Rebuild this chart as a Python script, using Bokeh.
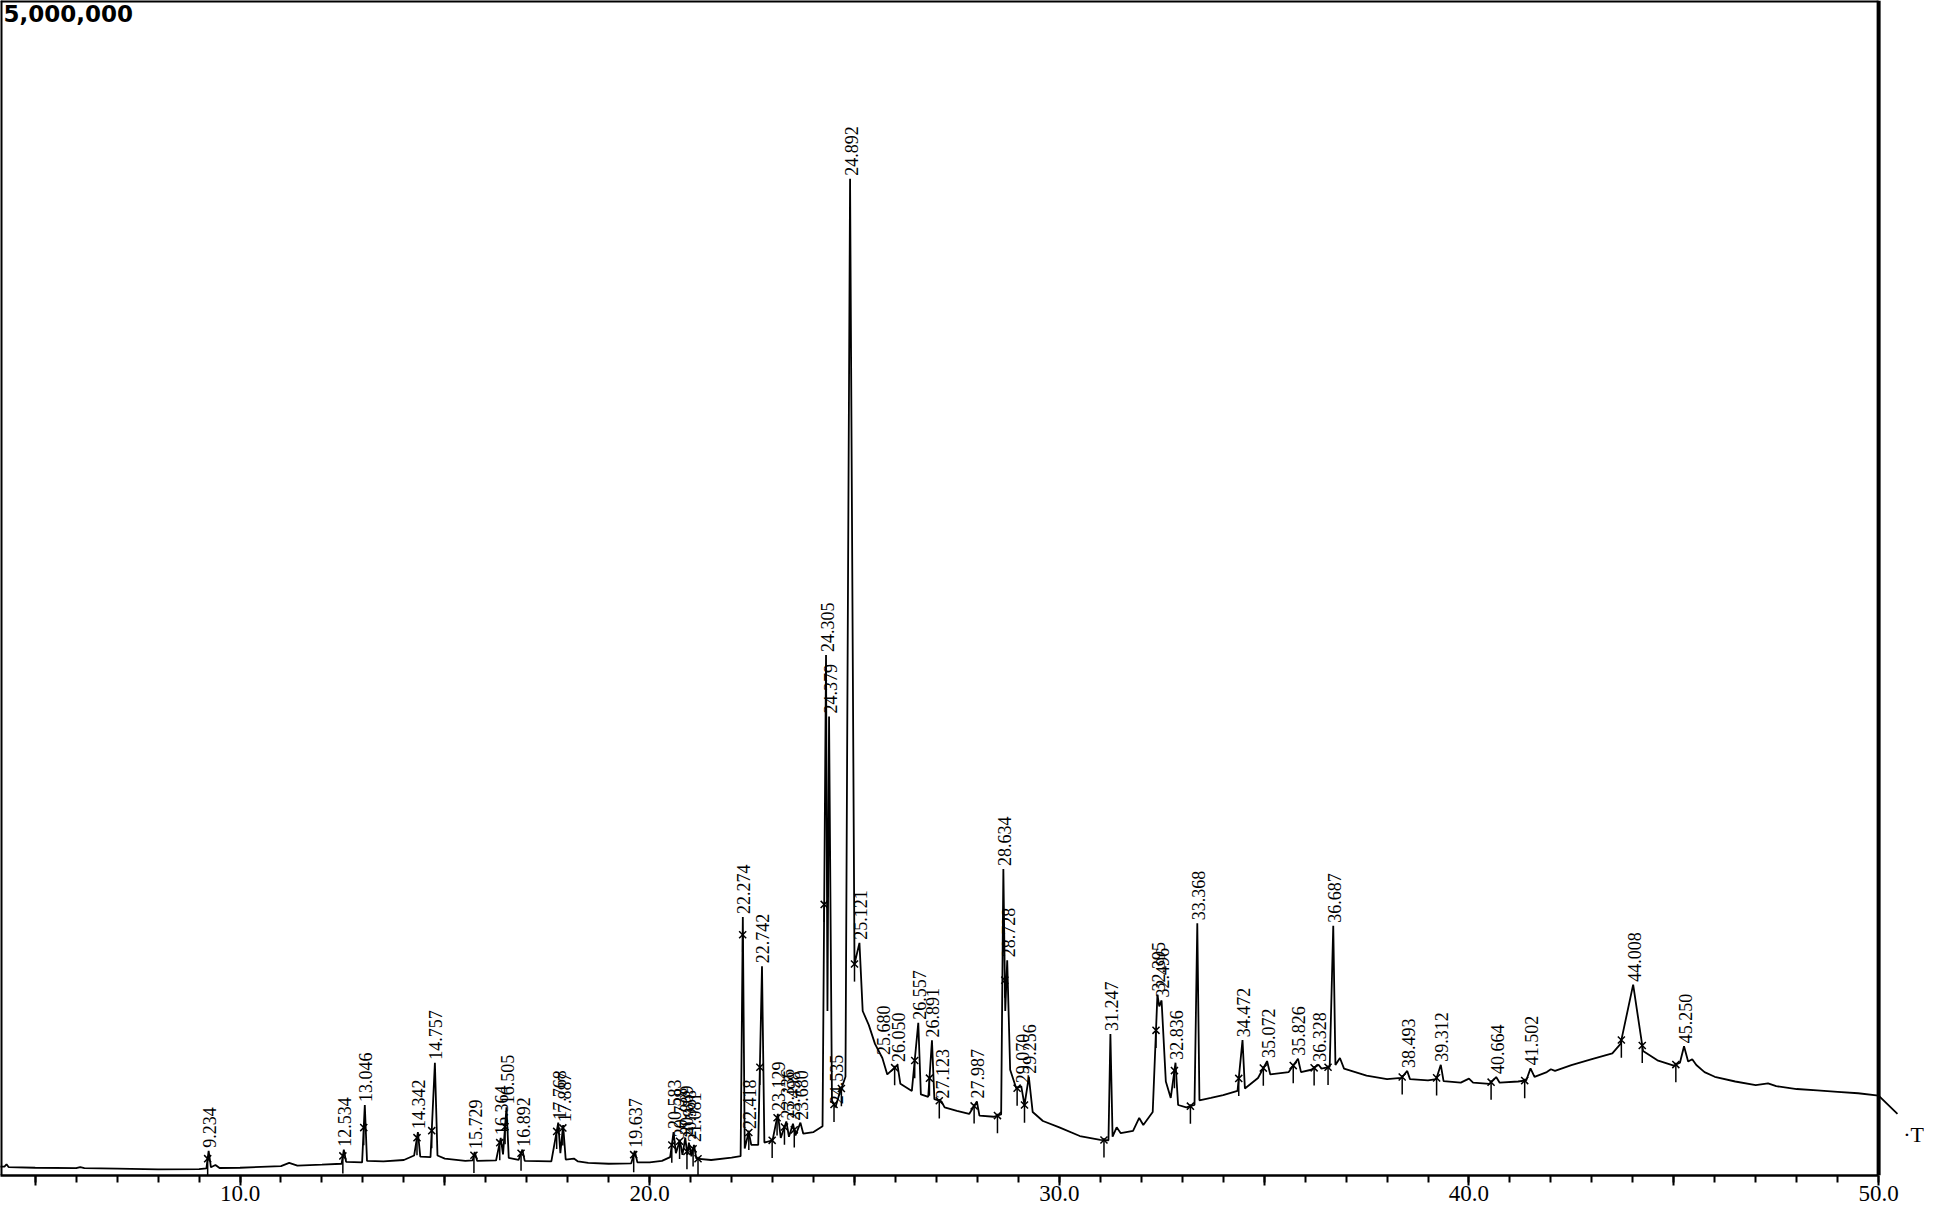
import numpy as np
from bokeh.plotting import figure
from bokeh.models import Range1d, FixedTicker, CustomJSTickFormatter, Label, ColumnDataSource
from bokeh.core.properties import value
from bokeh.embed import file_html
from bokeh.resources import INLINE

# ---- data (retention time in min, intensity in counts) ----
trace_time = [4.05, 4.25, 4.3, 4.35, 5.0, 6.0, 6.1, 6.2, 7.0, 8.0, 9.0, 9.18, 9.234, 9.29, 9.40, 9.5,
              10.0, 11.0, 11.2, 11.4, 12.0, 12.48, 12.534, 12.59, 12.98, 13.046, 13.1, 13.5, 14.0, 14.25,
              14.342, 14.40, 14.65, 14.757, 14.82, 15.0, 15.5, 15.68, 15.729, 15.79, 16.25, 16.364, 16.42,
              16.505, 16.56, 16.80, 16.892, 16.95, 17.6, 17.768, 17.82, 17.887, 17.95, 18.15, 18.25, 18.5,
              19.0, 19.55, 19.637, 19.70, 20.0, 20.3, 20.5, 20.583, 20.64, 20.738, 20.80, 20.869, 20.92,
              20.958, 21.02, 21.081, 21.14, 21.5, 22.0, 22.22, 22.274, 22.32, 22.418, 22.48, 22.65, 22.742,
              22.80, 23.0, 23.129, 23.20, 23.336, 23.40, 23.498, 23.56, 23.680, 23.75, 24.0, 24.22, 24.305,
              24.34, 24.379, 24.45, 24.535, 24.62, 24.78, 24.892, 25.0, 25.121, 25.2, 25.35, 25.5, 25.680,
              25.8, 26.050, 26.12, 26.40, 26.557, 26.62, 26.80, 26.891, 26.95, 27.123, 27.2, 27.5, 27.8,
              27.987, 28.05, 28.4, 28.58, 28.634, 28.68, 28.728, 28.80, 28.95, 29.070, 29.15, 29.256, 29.35,
              29.6, 30.0, 30.5, 31.0, 31.20, 31.247, 31.30, 31.40, 31.5, 31.8, 31.95, 32.05, 32.28, 32.395,
              32.44, 32.496, 32.6, 32.72, 32.836, 32.9, 33.1, 33.3, 33.368, 33.42, 33.7, 34.0, 34.35, 34.472,
              34.53, 34.85, 35.072, 35.15, 35.6, 35.826, 35.9, 36.15, 36.328, 36.40, 36.60, 36.687, 36.74,
              36.85, 36.95, 37.5, 38.0, 38.35, 38.493, 38.56, 39.0, 39.2, 39.312, 39.38, 39.8, 40.0, 40.1,
              40.5, 40.664, 40.75, 41.2, 41.4, 41.502, 41.6, 41.9, 42.0, 42.1, 42.5, 43.0, 43.5, 43.7,
              44.008, 44.25, 44.6, 45.0, 45.15, 45.250, 45.35, 45.45, 45.55, 45.75, 46.0, 46.5, 47.0, 47.3,
              47.5, 48.0, 48.5, 49.0, 49.5, 50.0, 50.46]
trace_intensity = [37000, 38000, 48000, 36000, 33000, 31000, 36000, 31000, 29000, 26000, 27000, 30000, 105000, 35000, 45000, 32000,
                   33000, 40000, 54000, 42000, 46000, 50000, 110000, 58000, 56000, 300000, 62000, 60000, 66000, 85000,
                   185000, 80000, 78000, 480000, 85000, 72000, 62000, 64000, 100000, 62000, 64000, 160000, 90000,
                   290000, 75000, 66000, 110000, 62000, 60000, 225000, 95000, 215000, 68000, 72000, 60000, 54000,
                   50000, 52000, 105000, 56000, 56000, 62000, 78000, 185000, 95000, 150000, 88000, 160000, 88000,
                   140000, 82000, 130000, 72000, 66000, 76000, 82000, 1100000, 115000, 185000, 130000, 130000, 890000,
                   140000, 150000, 262000, 160000, 230000, 165000, 220000, 170000, 225000, 178000, 185000, 210000, 2215000,
                   700000, 1953000, 320000, 290000, 340000, 420000, 4241000, 900000, 990000, 700000, 640000, 560000, 500000,
                   430000, 470000, 390000, 360000, 650000, 345000, 335000, 575000, 325000, 315000, 290000, 275000, 262000,
                   315000, 255000, 250000, 260000, 1304000, 700000, 916000, 450000, 370000, 380000, 300000, 420000, 270000,
                   232000, 205000, 168000, 152000, 150000, 602000, 165000, 205000, 180000, 190000, 245000, 215000, 270000, 770000,
                   720000, 745000, 400000, 330000, 480000, 300000, 290000, 300000, 1073000, 320000, 330000, 342000, 360000, 576000,
                   370000, 415000, 487000, 430000, 440000, 497000, 440000, 450000, 471000, 455000, 462000, 1063000, 470000,
                   500000, 455000, 425000, 410000, 415000, 445000, 410000, 405000, 410000, 471000, 402000, 395000, 412000, 395000,
                   390000, 419000, 395000, 400000, 405000, 456000, 420000, 440000, 452000, 445000, 470000, 495000, 520000, 560000,
                   812000, 530000, 490000, 468000, 480000, 550000, 485000, 495000, 470000, 440000, 420000, 400000, 385000, 392000,
                   380000, 368000, 362000, 356000, 350000, 340000, 262000]

peak_labels = ["9.234", "12.534", "13.046", "14.342", "14.757", "15.729", "16.364", "16.505", "16.892",
               "17.768", "17.887", "19.637", "20.583", "20.738", "20.869", "20.958", "21.081", "22.274",
               "22.418", "22.742", "23.129", "23.336", "23.498", "23.680", "24.305", "24.379", "24.535",
               "24.892", "25.121", "25.680", "26.050", "26.557", "26.891", "27.123", "27.987", "28.634",
               "28.728", "29.070", "29.256", "31.247", "32.395", "32.496", "32.836", "33.368", "34.472",
               "35.072", "35.826", "36.328", "36.687", "38.493", "39.312", "40.664", "41.502", "44.008",
               "45.250"]

# integration boundary marks (retention time, min)
mark_time = [9.21, 12.51, 13.02, 14.32, 14.68, 15.71, 16.34, 16.47, 16.86, 17.73, 17.88, 19.61, 20.54,
             20.73, 20.91, 21.06, 21.18, 22.27, 22.42, 22.69, 22.99, 23.11, 23.29, 23.53, 24.26, 24.50,
             24.68, 25.0, 25.98, 26.47, 26.83, 27.07, 27.92, 28.49, 28.67, 28.97, 29.15, 31.09, 32.36,
             32.81, 33.20, 34.38, 34.98, 35.71, 36.22, 36.56, 38.37, 39.21, 40.54, 41.36, 43.72, 44.23,
             45.05]

x_ticks = [5, 10, 15, 20, 25, 30, 35, 40, 45, 50]
x_minor = list(range(5, 51))
x_start, x_end_axis = 4.153, 50.0
full_scale = 5000000

# ---- figure ----
p = figure(width=1924, height=1205, output_backend="svg", toolbar_location=None,
           x_range=Range1d(x_start, 51.12), y_range=Range1d(0, full_scale),
           min_border_left=0, min_border_right=0, min_border_top=0, min_border_bottom=30)
p.grid.visible = False
p.yaxis.visible = False
p.outline_line_color = None
p.background_fill_color = "white"
p.border_fill_color = "white"

xa = p.xaxis[0]
xa.bounds = (x_start, x_end_axis)
xa.ticker = FixedTicker(ticks=x_ticks, minor_ticks=x_minor)
xa.formatter = CustomJSTickFormatter(code="return (tick % 10 == 0) ? tick.toFixed(1) : '';")
xa.axis_line_width = 2.5
xa.axis_line_color = "black"
xa.major_tick_line_width = 2
xa.minor_tick_line_width = 2
xa.major_tick_out = 10
xa.major_tick_in = 0
xa.minor_tick_out = 7
xa.minor_tick_in = 0
xa.major_label_text_font = "Liberation Serif"
xa.major_label_text_font_size = "23px"
xa.major_label_text_color = "black"
xa.major_label_standoff = 0

# box frame (left, top, right) limited to the axis extent
p.segment(x0=[x_start, x_start, x_end_axis], y0=[0, full_scale, 0],
          x1=[x_start, x_end_axis, x_end_axis], y1=[full_scale, full_scale, full_scale],
          line_color="black", line_width=4)

t = np.array(trace_time)
yv = np.array(trace_intensity)
p.line(t, yv, line_color="black", line_width=1.8)

# integration marks
mb = np.interp(mark_time, t, yv)
p.segment(x0=mark_time, y0=mb - 75000, x1=mark_time, y1=mb + 8000, line_color="black", line_width=1.5)
p.scatter(x=mark_time, y=mb, marker="x", size=10, line_color="black", line_width=1.5)

# peak labels (rotated, starting at the apex)
peak_rt = [float(s) for s in peak_labels]
peak_apex = np.interp(peak_rt, t, yv)
src = ColumnDataSource(dict(x=peak_rt, y=peak_apex, txt=peak_labels))
p.text(x="x", y="y", text="txt", source=src, angle=np.pi / 2, text_align="left",
       text_baseline="middle", y_offset=-3, x_offset=1,
       text_font=value("Liberation Serif"), text_font_size="18px", text_color="black")

p.add_layout(Label(x=x_start, y=full_scale, text="5,000,000", text_font="DejaVu Sans",
                   text_font_style="bold", text_font_size="23px", text_baseline="top",
                   x_offset=3, y_offset=-4, text_color="black"))
p.add_layout(Label(x=50.6, y=175000, text="·T", text_font="Liberation Serif",
                   text_font_size="22px", text_baseline="middle", text_color="black"))

open("out.html", "w").write(file_html(p, INLINE))
